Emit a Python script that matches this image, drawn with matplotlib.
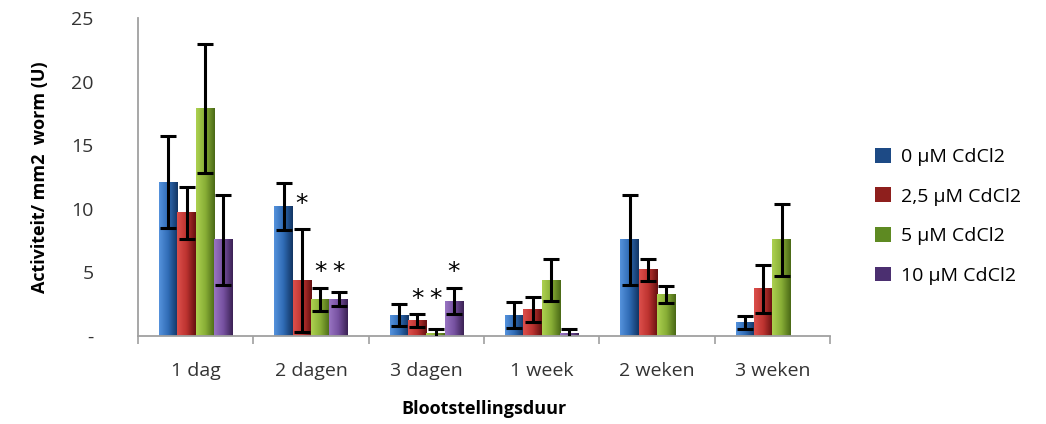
import numpy as np
import matplotlib.pyplot as plt
from matplotlib.colors import LinearSegmentedColormap
from matplotlib.patches import Patch

plt.rcParams['font.family'] = ['Open Sans', 'DejaVu Sans']

categories = ["1 dag", "2 dagen", "3 dagen", "1 week", "2 weken", "3 weken"]
series = ["0 µM CdCl2", "2,5 µM CdCl2", "5 µM CdCl2", "10 µM CdCl2"]

vals_0 = [12.1, 10.2, 1.65, 1.65, 7.55, 1.05]
vals_25 = [9.7, 4.35, 1.2, 2.1, 5.2, 3.7]
vals_5 = [17.9, 2.9, 0.2, 4.4, 3.25, 7.55]
vals_10 = [7.55, 2.9, 2.75, 0.2, 0.0, 0.0]

err_0 = [3.6, 1.85, 0.85, 1.05, 3.55, 0.5]
err_25 = [2.05, 4.05, 0.5, 1.0, 0.85, 1.9]
err_5 = [5.05, 0.9, 0.35, 1.65, 0.65, 2.85]
err_10 = [3.5, 0.55, 1.0, 0.35, None, None]

# significance stars: (category index, series index, y)
stars = [(1, 1, 10.4), (1, 2, 5.0), (1, 3, 5.0),
         (2, 1, 2.9), (2, 2, 2.9), (2, 3, 5.0)]

values = [vals_0, vals_25, vals_5, vals_10]
errors = [err_0, err_25, err_5, err_10]

grads = [
    ['#5592dc', '#2f6bb5', '#123563'],
    ['#dc4f4b', '#bd3330', '#651010'],
    ['#add150', '#88ae36', '#4a6916'],
    ['#9874c2', '#7651a0', '#3b2254'],
]
legend_cols = ['#1d4a85', '#8e1f1d', '#5e8a22', '#4b2f70']

fig = plt.figure(figsize=(10.46, 4.24), dpi=100)
ax = fig.add_axes([0.132, 0.2075, 0.6615, 0.75])

x = np.arange(len(categories))
bw = 0.159
offsets = (np.arange(4) - 1.5) * bw
ramp = np.linspace(0, 1, 64).reshape(1, -1)

for i in range(4):
    cmap = LinearSegmentedColormap.from_list(f"g{i}", grads[i])
    for j in range(len(categories)):
        v = values[i][j]
        xc = x[j] + offsets[i]
        if v > 0:
            ax.imshow(ramp, extent=[xc - bw / 2, xc + bw / 2, 0, v], aspect='auto',
                      cmap=cmap, origin='lower', zorder=2)
        e = errors[i][j]
        if e is not None:
            ax.errorbar(xc, v, yerr=e, fmt='none', ecolor='black', elinewidth=2.2,
                        capsize=5.5, capthick=2.2, zorder=3)

for j, i, y in stars:
    ax.text(x[j] + offsets[i], y, "*", ha='center', va='center', fontsize=18,
            fontfamily='DejaVu Sans', zorder=4)

ax.set_xlim(-0.5, len(categories) - 0.5)
ax.set_ylim(0, 25)
ax.set_yticks([0, 5, 10, 15, 20, 25])
ax.set_yticklabels(["-", "5", "10", "15", "20", "25"])
ax.set_xticks(x)
ax.set_xticklabels(categories)
ax.set_xticks(np.arange(-0.5, len(categories)), minor=True)
ax.tick_params(axis='x', which='major', length=0, pad=19, labelsize=14, colors='#333333')
ax.tick_params(axis='x', which='minor', length=6, width=1.2, color='#a0a0a0')
ax.tick_params(axis='y', length=0, pad=32, labelsize=14, colors='#333333')
for s in ['top', 'right']:
    ax.spines[s].set_visible(False)
for s in ['left', 'bottom']:
    ax.spines[s].set_color('#a0a0a0')
    ax.spines[s].set_linewidth(1.3)

ax.set_ylabel("Activiteit/ mm2  worm (U)", fontsize=13, fontweight='bold', labelpad=16)
ax.set_xlabel("Blootstellingsduur", fontsize=13, fontweight='bold', labelpad=14)

handles = [Patch(facecolor=legend_cols[i], label=series[i]) for i in range(4)]
fig.legend(handles=handles, loc='center left', bbox_to_anchor=(0.82, 0.49),
           frameon=False, fontsize=14, handlelength=0.8, handleheight=0.8,
           handletextpad=0.55, labelspacing=1.1)

fig.savefig("out.png", dpi=100)
